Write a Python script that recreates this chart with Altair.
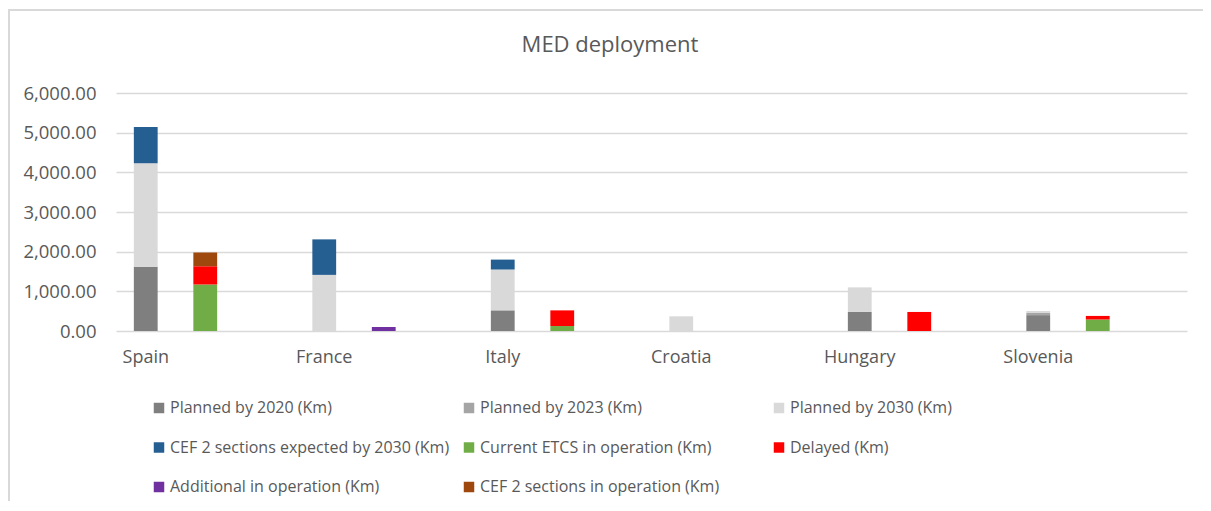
import altair as alt
import pandas as pd

countries = ["Spain", "France", "Italy", "Croatia", "Hungary", "Slovenia"]

# Stack A: planning series
planned_2020 = [1620, 0, 520, 0, 480, 400]
planned_2023 = [0, 0, 0, 0, 0, 55]
planned_2030 = [2610, 1415, 1030, 370, 620, 50]
cef2_expected_2030 = [910, 895, 250, 0, 0, 0]

# Stack B: operation series
current_etcs = [1170, 0, 125, 0, 0, 290]
delayed = [460, 0, 395, 0, 480, 90]
additional_op = [0, 100, 0, 0, 0, 0]
cef2_in_op = [350, 0, 0, 0, 0, 0]

series_names = [
    "Planned by 2020 (Km)",
    "Planned by 2023 (Km)",
    "Planned by 2030 (Km)",
    "CEF 2 sections expected by 2030  (Km)",
    "Current ETCS in operation (Km)",
    "Delayed (Km)",
    "Additional in operation (Km)",
    "CEF 2 sections in operation (Km)",
]
series_values = [planned_2020, planned_2023, planned_2030, cef2_expected_2030,
                 current_etcs, delayed, additional_op, cef2_in_op]
series_stack = ["A", "A", "A", "A", "B", "B", "B", "B"]
colors = ["#7f7f7f", "#a5a5a5", "#d9d9d9", "#255e91",
          "#70ad47", "#ff0000", "#7030a0", "#9e480e"]

chart_title = "MED deployment"

rows = []
for si, (name, vals, stk) in enumerate(zip(series_names, series_values, series_stack)):
    for c, v in zip(countries, vals):
        if v > 0:
            rows.append({"slot": f"{c}|{stk}", "series": name, "value": v, "idx": si})
df = pd.DataFrame(rows)

slots = [f"{c}|{s}" for c in countries for s in ["A", "B", "C"]]

FONT = "Open Sans"
GREY = "#595959"

bars = alt.Chart(df).mark_bar().encode(
    x=alt.X("slot:N",
            scale=alt.Scale(domain=slots, paddingInner=0.6, paddingOuter=0.3),
            axis=alt.Axis(title=None, domain=False, ticks=False, labelAngle=0,
                          labelExpr="indexof(datum.value, '|A') > 0 ? split(datum.value, '|')[0] : ''",
                          labelFontSize=18, labelColor=GREY, labelFont=FONT,
                          labelPadding=17)),
    y=alt.Y("value:Q",
            scale=alt.Scale(domain=[0, 6000], nice=False),
            axis=alt.Axis(title=None, domain=False, ticks=False, format=",.2f",
                          values=[0, 1000, 2000, 3000, 4000, 5000, 6000],
                          labelFontSize=18.5, labelColor=GREY, labelFont=FONT,
                          labelPadding=20, gridColor="#d9d9d9", gridWidth=1.6)),
    color=alt.Color("series:N",
                    scale=alt.Scale(domain=series_names, range=colors),
                    legend=alt.Legend(title=None, orient="none", legendX=35, legendY=307,
                                      direction="horizontal",
                                      columns=3, symbolType="square", symbolSize=110,
                                      symbolStrokeWidth=0, labelFontSize=16,
                                      labelColor=GREY, labelFont=FONT, gridAlign="all",
                                      columnPadding=7, rowPadding=23.5, padding=0,
                                      labelLimit=400, labelOffset=3)),
    order=alt.Order("idx:Q"),
)

title_text = alt.Chart(pd.DataFrame({"t": [chart_title]})).mark_text(
    font=FONT, fontSize=22, color=GREY, align="center", baseline="alphabetic"
).encode(text="t:N", x=alt.value(494), y=alt.value(-41))

border_left = alt.Chart(df).mark_rule(color="#d9d9d9", strokeWidth=2).encode(
    x=alt.value(-107), y=alt.value(-83), y2=alt.value(410))
border_top = alt.Chart(df).mark_rule(color="#d9d9d9", strokeWidth=2).encode(
    x=alt.value(-108), x2=alt.value(1090), y=alt.value(-83))

chart = alt.layer(border_left, border_top, title_text, bars).properties(
    width=1071, height=238,
    autosize=alt.AutoSizeParams(type="none"),
    padding={"left": 108, "top": 85, "right": 16, "bottom": 170},
).configure_view(stroke=None)

chart.save("out.html", embed_options={"renderer": "svg", "actions": False})
